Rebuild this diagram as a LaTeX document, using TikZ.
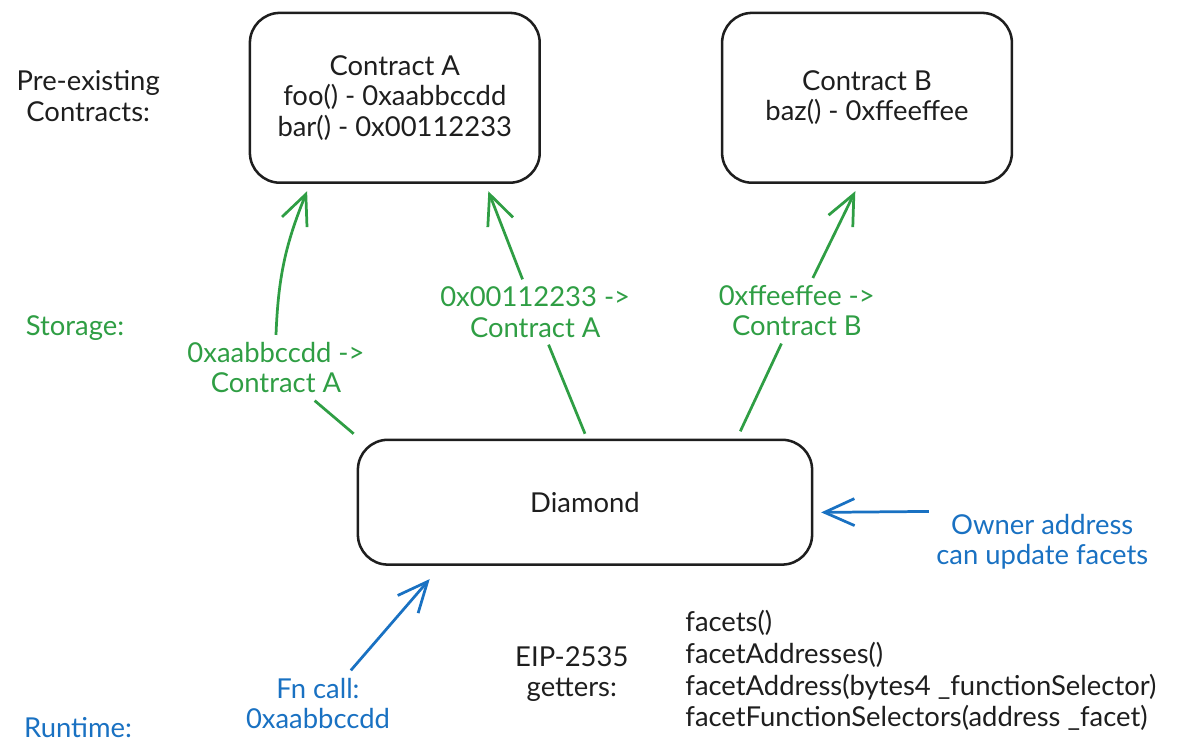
\documentclass[tikz,border=0pt]{standalone}
\usepackage{fontspec}
\setmainfont{Lato}
\usetikzlibrary{arrows.meta, positioning, calc}
\definecolor{inkcolor}{RGB}{30, 30, 30}
\definecolor{storagecolor}{RGB}{47, 158, 68}
\definecolor{runtimecolor}{RGB}{25, 113, 194}

\begin{document}
\begin{tikzpicture}[
    font=\fontsize{13}{14.4}\selectfont,
    box/.style={rectangle, draw=inkcolor, line width=1.2pt, rounded corners=0.5cm, align=center, text=inkcolor},
    note/.style={align=center, text=inkcolor},
    link/.style={draw=storagecolor, line width=1.3pt},
    call/.style={draw=runtimecolor, line width=1.3pt},
    tip/.style={-{Straight Barb[length=5mm, width=4.5mm]}}
]
\useasboundingbox (0,0) rectangle (20,-12.5);

% Contracts
\node[box, minimum width=4.83cm, minimum height=2.83cm] (ca) at (6.58,-1.63) {Contract A\\foo() - 0xaabbccdd\\bar() - 0x00112233};
\node[box, minimum width=4.83cm, minimum height=2.83cm] (cb) at (14.45,-1.63) {Contract B\\baz() - 0xffeeffee};

% Diamond
\node[box, minimum width=7.57cm, minimum height=2.08cm] (dia) at (9.75,-8.37) {Diamond};

% Row labels
\node[note] (pre) at (1.47,-1.6) {Pre-existing\\Contracts:};
\node[note, text=storagecolor] (storage) at (1.25,-5.47) {Storage:};
\node[note, text=runtimecolor] (runtime) at (1.3,-12.13) {Runtime:};

% Storage entries
\node[note, text=storagecolor] (la) at (4.6,-6.13) {0xaabbccdd ->\\Contract A};
\node[note, text=storagecolor] (lb) at (8.92,-5.2) {0x00112233 ->\\Contract A};
\node[note, text=storagecolor] (lc) at (13.28,-5.18) {0xffeeffee ->\\Contract B};

% Runtime notes
\node[note, text=runtimecolor] (fn) at (5.3,-11.72) {Fn call:\\0xaabbccdd};
\node[note, text=runtimecolor] (owner) at (17.37,-9.03) {Owner address\\can update facets};

% Getters
\node[note] (eip) at (9.53,-11.23) {EIP-2535\\getters:};
\node[note, align=left, anchor=west, font=\fontsize{13}{15}\selectfont] (getters) at (11.3,-11.18) {facets()\\facetAddresses()\\facetAddress(bytes4 \_functionSelector)\\facetFunctionSelectors(address \_facet)};

% Arrow ends
\coordinate (caL) at ($(ca.south west)!0.2!(ca.south east)+(0,-0.12)$);
\coordinate (caR) at ($(ca.south west)!0.82!(ca.south east)+(0,-0.12)$);
\coordinate (cbM) at ($(cb.south west)!0.46!(cb.south east)+(0,-0.12)$);
\coordinate (diaL) at ($(dia.north west)+(-0.05,0.08)$);
\coordinate (diaM) at ($(dia.north)+(0,0.08)$);
\coordinate (diaR) at ($(dia.north west)!0.84!(dia.north east)+(0,0.12)$);
\coordinate (diaS) at ($(dia.south west)!0.16!(dia.south east)+(0,-0.22)$);
\coordinate (diaE) at ($(dia.east)+(0.13,-0.17)$);

% Storage arrows
\draw[link] (diaL) -- (la);
\draw[link, tip] (la) to[bend left=10] (caL);
\draw[link] (diaM) -- (lb);
\draw[link, tip] (lb) -- (caR);
\draw[link] (diaR) -- (lc);
\draw[link, tip] (lc) -- (cbM);

% Runtime arrows
\draw[call, tip] (fn.45) -- (diaS);
\draw[call, tip] (owner.165) -- (diaE);

\end{tikzpicture}
\end{document}
